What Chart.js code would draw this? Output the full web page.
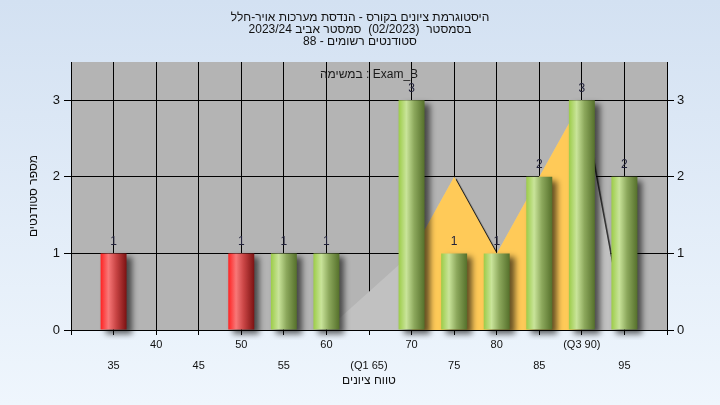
<!DOCTYPE html>
<html lang="he">
<head>
<meta charset="utf-8">
<script src="https://cdn.jsdelivr.net/npm/chart.js@4.4.1/dist/chart.umd.min.js"></script>
<style>
  html, body { margin: 0; padding: 0; }
  body { width: 720px; height: 405px; overflow: hidden; background: linear-gradient(#d3e1f2, #eff6fd); }
  canvas { display: block; }
</style>
</head>
<body>
<canvas id="histo" width="720" height="405"></canvas>
<script>
// סלים של ציונים ומספר הסטודנטים בכל סל
const bins = ['30', '35', '40', '45', '50', '55', '60', '65', '70', '75', '80', '85', '90', '95', '100'];
const counts = [0, 1, 0, 0, 1, 1, 1, 0, 3, 1, 1, 2, 3, 2, 0];
const tickLabels = ['', '35', '40', '45', '50', '55', '60', '(Q1 65)', '70', '75', '80', '85', '(Q3 90)', '95', ''];
// קו המגמה (אפור) והתחום בין הרבעונים (כתום)
const curve = [null, null, null, null, null, null, 0, null, 1, 2, 1, 2, 3, 0, null];
const quartileBand = [null, null, null, null, null, null, null, null, 1, 2, 1, 2, 3, null, null];
const yTicks = [0, 1, 2, 3];
const passMark = 55;

const titleLines = [
  'היסטוגרמת ציונים בקורס - הנדסת מערכות אויר-חלל',
  'בסמסטר  (02/2023)  סמסטר אביב 2023/24',
  'סטודנטים רשומים - 88'
];
const legendText = 'במשימה : Exam_B';

const FONT = 'Liberation Sans, Arial, sans-serif';
const BAR_PCT = 0.61;

function barGradient(ctx) {
  const chart = ctx.chart;
  const xs = chart.scales.x;
  const fail = Number(bins[ctx.dataIndex]) < passMark;
  const fallback = fail ? '#e03030' : '#9ccc48';
  if (!xs || !chart.chartArea || ctx.type !== 'data') return fallback;
  const x = xs.getPixelForValue(ctx.dataIndex);
  const half = xs.width / (bins.length - 1) * BAR_PCT / 2;
  if (!isFinite(x) || !isFinite(half) || half <= 0) return fallback;
  const g = chart.ctx.createLinearGradient(x - half, 0, x + half, 0);
  if (fail) {
    g.addColorStop(0, '#ff2222');
    g.addColorStop(0.3, '#f87878');
    g.addColorStop(0.6, '#c84444');
    g.addColorStop(1, '#7c1212');
  } else {
    g.addColorStop(0, '#9ccc48');
    g.addColorStop(0.3, '#c9e49a');
    g.addColorStop(0.6, '#8ca85c');
    g.addColorStop(1, '#55702b');
  }
  return g;
}

// רקע אפור לאזור השרטוט
const plotBg = {
  id: 'plotBg',
  beforeDraw(chart) {
    const { ctx, chartArea: a } = chart;
    ctx.save();
    ctx.fillStyle = '#b4b4b4';
    ctx.fillRect(a.left, a.top, a.right - a.left, a.bottom - a.top);
    ctx.restore();
  }
};

// צללים, תוויות ערכים וכיתוב המשימה
const shadows = {
  id: 'shadows',
  beforeDatasetsDraw(chart) {
    const ctx = chart.ctx;
    ctx.save();
    ctx.shadowColor = 'rgba(0,0,0,0.75)';
    ctx.shadowOffsetX = 2;
    ctx.shadowOffsetY = 2;
    ctx.shadowBlur = 1;
  },
  beforeDatasetDraw(chart, args) {
    if (chart.data.datasets[args.index].type !== 'bar') return;
    const ctx = chart.ctx;
    ctx.shadowColor = 'rgba(0,0,0,0.6)';
    ctx.shadowOffsetX = 5;
    ctx.shadowOffsetY = 4;
    ctx.shadowBlur = 6;
  },
  afterDatasetsDraw(chart) {
    const ctx = chart.ctx;
    ctx.restore();
    ctx.save();
    ctx.font = '12px ' + FONT;
    ctx.fillStyle = '#22223a';
    ctx.textAlign = 'center';
    ctx.textBaseline = 'middle';
    chart.getDatasetMeta(0).data.forEach((bar, i) => {
      if (!counts[i]) return;
      ctx.fillText(String(counts[i]), bar.x, bar.y - 12);
    });
    const a = chart.chartArea;
    ctx.fillStyle = '#1a1a1a';
    ctx.fillText(legendText, (a.left + a.right) / 2, a.top + 13);
    ctx.restore();
  }
};

const tickFont = { family: FONT, size: 13 };

new Chart(document.getElementById('histo'), {
  type: 'bar',
  data: {
    labels: bins,
    datasets: [
      {
        type: 'bar',
        data: counts,
        backgroundColor: barGradient,
        borderWidth: 0,
        barPercentage: BAR_PCT,
        categoryPercentage: 1,
        clip: 10,
        order: 0
      },
      {
        type: 'line',
        data: quartileBand,
        fill: 'origin',
        backgroundColor: '#ffca58',
        borderWidth: 0,
        borderColor: 'rgba(0,0,0,0)',
        pointRadius: 0,
        order: 1
      },
      {
        type: 'line',
        data: curve,
        fill: 'origin',
        spanGaps: true,
        backgroundColor: '#c1c1c1',
        borderWidth: 0,
        borderColor: 'rgba(0,0,0,0)',
        pointRadius: 0,
        order: 2
      }
    ]
  },
  options: {
    responsive: false,
    animation: false,
    devicePixelRatio: 1,
    layout: { padding: 0 },
    plugins: {
      legend: { display: false },
      tooltip: { enabled: false },
      title: {
        display: true,
        text: titleLines,
        color: '#111',
        font: { family: FONT, size: 12, weight: 'normal', lineHeight: 1 },
        padding: { top: 12, bottom: 14 }
      }
    },
    scales: {
      x: {
        type: 'category',
        offset: false,
        grid: { offset: false, color: '#000', lineWidth: 1, tickLength: 5, tickColor: '#000' },
        border: { color: '#000' },
        ticks: {
          autoSkip: false,
          maxRotation: 0,
          padding: 0,
          color: '#111',
          font: { family: FONT, size: 11, lineHeight: 1.9 },
          callback: (v, i) => (i % 2 ? ['', tickLabels[i]] : tickLabels[i])
        },
        title: {
          display: true,
          text: 'טווח ציונים',
          color: '#111',
          font: { family: FONT, size: 12 },
          padding: { bottom: 17 }
        },
        afterFit: s => { s.height = 75; }
      },
      y: {
        position: 'left',
        min: 0,
        max: 3.5,
        afterBuildTicks: s => { s.ticks = yTicks.map(v => ({ value: v })); },
        grid: { color: '#000', lineWidth: 1, tickLength: 7, tickColor: '#000' },
        border: { color: '#000' },
        ticks: { padding: 4, color: '#111', font: tickFont },
        title: {
          display: true,
          text: 'מספר סטודנטים',
          color: '#111',
          font: { family: FONT, size: 12 },
          padding: { top: 26 }
        },
        afterFit: s => { s.width = 71; }
      },
      y2: {
        position: 'right',
        min: 0,
        max: 3.5,
        afterBuildTicks: s => { s.ticks = yTicks.map(v => ({ value: v })); },
        grid: { drawOnChartArea: false, tickLength: 7, tickColor: '#000' },
        border: { color: '#000' },
        ticks: { padding: 3, color: '#111', font: tickFont },
        afterFit: s => { s.width = 53; }
      }
    }
  },
  plugins: [plotBg, shadows]
});
</script>
</body>
</html>
